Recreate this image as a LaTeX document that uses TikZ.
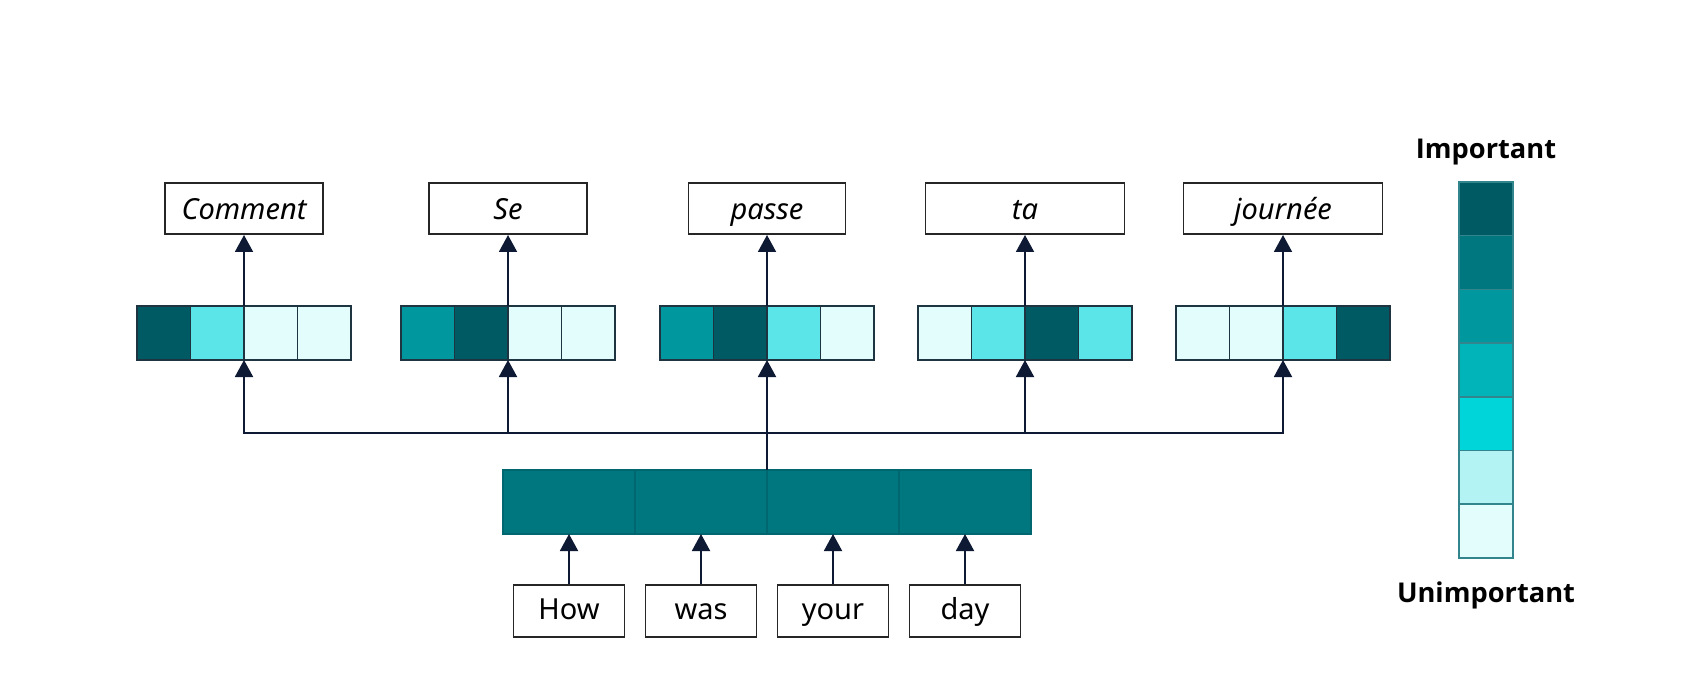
\documentclass[tikz,border=0pt]{standalone}
\usepackage{fontspec}
\setmainfont{Noto Sans}
\newfontfamily\keyfont{Open Sans}
\usepackage{xcolor}
\usepackage{tikz}
\usetikzlibrary{
  arrows.meta,
  positioning
}
\definecolor{heatA}{HTML}{005A63}
\definecolor{heatB}{HTML}{00767F}
\definecolor{heatC}{HTML}{00979E}
\definecolor{heatD}{HTML}{00B4BA}
\definecolor{heatE}{HTML}{00D5DA}
\definecolor{heatF}{HTML}{B4F3F3}
\definecolor{heatG}{HTML}{E3FDFD}
\definecolor{attcyan}{HTML}{5CE5E8}
\definecolor{arrowcolor}{HTML}{0E1A33}
\definecolor{cellline}{HTML}{1E3440}
\definecolor{barline}{HTML}{006670}

\begin{document}
\begin{tikzpicture}[
  word/.style={draw=black!85, line width=1.1pt, minimum height=1.02cm, inner sep=0pt,
    text height=14pt, text depth=1pt, font=\fontsize{16.5}{20}\selectfont\itshape},
  src/.style={draw=black!85, line width=1.1pt, minimum width=2.22cm, minimum height=1.04cm,
    inner sep=0pt, text height=12.5pt, text depth=2.3pt, font=\fontsize{16.5}{20}\selectfont},
  cell/.style={draw=cellline, line width=1.1pt, minimum width=1.07cm, minimum height=1.08cm,
    inner sep=0pt, outer sep=0pt, anchor=west},
  barcell/.style={draw=barline, fill=heatB, line width=0.6pt, minimum width=2.64cm,
    minimum height=1.28cm, inner sep=0pt, outer sep=0pt, anchor=west},
  legcell/.style={draw=barline!80, line width=0.9pt, minimum width=1.08cm, minimum height=1.074cm,
    inner sep=0pt, outer sep=0pt, anchor=north},
  key/.style={inner sep=0pt, font=\keyfont\fontsize{15.5}{18}\selectfont\bfseries},
  arr/.style={draw=arrowcolor, line width=1.1pt, -{Triangle[length=0.34cm, width=0.36cm]}},
]
  \useasboundingbox (0,0) rectangle (34,-13.86);

  % Attention weights, one row per output word
  \node[cell, fill=heatA] (c11) at (2.74,-6.66) {};
  \node[cell, fill=attcyan, right=0pt of c11] (c12) {};
  \node[cell, fill=heatG, right=0pt of c12] (c13) {};
  \node[cell, fill=heatG, right=0pt of c13] (c14) {};

  \node[cell, fill=heatC] (c21) at (8.02,-6.66) {};
  \node[cell, fill=heatA, right=0pt of c21] (c22) {};
  \node[cell, fill=heatG, right=0pt of c22] (c23) {};
  \node[cell, fill=heatG, right=0pt of c23] (c24) {};

  \node[cell, fill=heatC] (c31) at (13.20,-6.66) {};
  \node[cell, fill=heatA, right=0pt of c31] (c32) {};
  \node[cell, fill=attcyan, right=0pt of c32] (c33) {};
  \node[cell, fill=heatG, right=0pt of c33] (c34) {};

  \node[cell, fill=heatG] (c41) at (18.36,-6.66) {};
  \node[cell, fill=attcyan, right=0pt of c41] (c42) {};
  \node[cell, fill=heatA, right=0pt of c42] (c43) {};
  \node[cell, fill=attcyan, right=0pt of c43] (c44) {};

  \node[cell, fill=heatG] (c51) at (23.52,-6.66) {};
  \node[cell, fill=heatG, right=0pt of c51] (c52) {};
  \node[cell, fill=attcyan, right=0pt of c52] (c53) {};
  \node[cell, fill=heatA, right=0pt of c53] (c54) {};

  % Output words
  \node[word, minimum width=3.16cm, above=1.42cm of c12.north east] (comment) {Comment};
  \node[word, minimum width=3.16cm, above=1.42cm of c22.north east] (se) {Se};
  \node[word, minimum width=3.14cm, above=1.42cm of c32.north east] (passe) {passe};
  \node[word, minimum width=3.98cm, above=1.42cm of c42.north east] (ta) {ta};
  \node[word, minimum width=3.98cm, above=1.42cm of c52.north east] (journee) {journée};

  % Encoder states
  \node[barcell] (b1) at (10.06,-10.04) {};
  \node[barcell, right=0pt of b1] (b2) {};
  \node[barcell, right=0pt of b2] (b3) {};
  \node[barcell, right=0pt of b3] (b4) {};

  % Input words
  \node[src, below=1.0cm of b1.south] (how) {How};
  \node[src, below=1.0cm of b2.south] (was) {was};
  \node[src, below=1.0cm of b3.south] (your) {your};
  \node[src, below=1.0cm of b4.south] (day) {day};

  % Arrows
  \draw[arr] (how) -- (b1);
  \draw[arr] (was) -- (b2);
  \draw[arr] (your) -- (b3);
  \draw[arr] (day) -- (b4);

  \coordinate[above=0.74cm of b2.north east] (hub);
  \draw[draw=arrowcolor, line width=1.1pt] (b2.north east) -- (hub);
  \draw[arr] (hub) -| (c12.south east);
  \draw[arr] (hub) -| (c22.south east);
  \draw[arr] (hub) -- (c32.south east);
  \draw[arr] (hub) -| (c42.south east);
  \draw[arr] (hub) -| (c52.south east);

  \draw[arr] (c12.north east) -- (comment);
  \draw[arr] (c22.north east) -- (se);
  \draw[arr] (c32.north east) -- (passe);
  \draw[arr] (c42.north east) -- (ta);
  \draw[arr] (c52.north east) -- (journee);

  % Legend
  \node[legcell, fill=heatA] (l1) at (29.72,-3.64) {};
  \node[legcell, fill=heatB, below=0pt of l1] (l2) {};
  \node[legcell, fill=heatC, below=0pt of l2] (l3) {};
  \node[legcell, fill=heatD, below=0pt of l3] (l4) {};
  \node[legcell, fill=heatE, below=0pt of l4] (l5) {};
  \node[legcell, fill=heatF, below=0pt of l5] (l6) {};
  \node[legcell, fill=heatG, below=0pt of l6] (l7) {};

  \node[key, above=0.34cm of l1] (imp) {Important};
  \node[key, below=0.48cm of l7] (unimp) {Unimportant};
\end{tikzpicture}
\end{document}
